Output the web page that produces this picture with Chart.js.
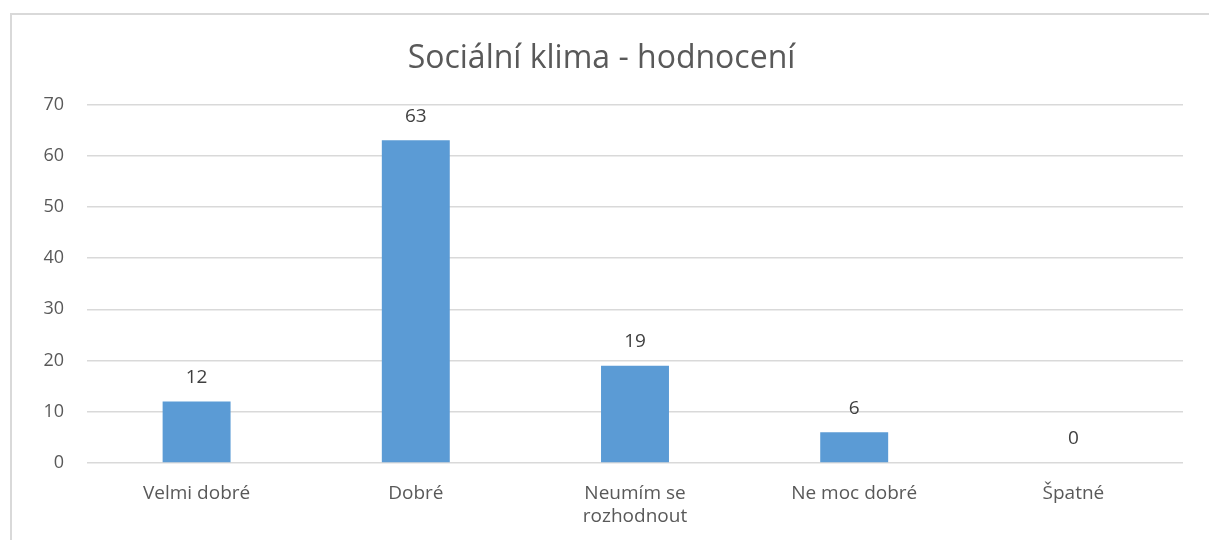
<!DOCTYPE html>
<html>
<head>
<meta charset="utf-8">
<script src="https://cdn.jsdelivr.net/npm/chart.js@4"></script>
<style>
  html, body { margin: 0; padding: 0; background: #fff; }
  #wrap { position: relative; width: 1209px; height: 540px; }
  #frame {
    position: absolute; left: 10px; top: 13px; right: 0; bottom: -5px;
    border-top: 2px solid #d9d9d9; border-left: 2px solid #d9d9d9;
  }
  canvas { position: absolute; left: 0; top: 0; }
</style>
</head>
<body>
<div id="wrap">
  <div id="frame"></div>
  <canvas id="chart" width="1209" height="540"></canvas>
</div>
<script>
const categories = ['Velmi dobré', 'Dobré', ['Neumím se', 'rozhodnout'], 'Ne moc dobré', 'Špatné'];
const values = [12, 63, 19, 6, 0];
const yTicks = [0, 10, 20, 30, 40, 50, 60, 70];

const fontFamily = '"Open Sans", "Noto Sans", sans-serif';
const textColor = '#595959';

// value labels above bars
const barLabels = {
  id: 'barLabels',
  afterDatasetsDraw(chart) {
    const { ctx } = chart;
    const meta = chart.getDatasetMeta(0);
    ctx.save();
    ctx.font = '19px ' + fontFamily;
    ctx.fillStyle = '#404040';
    ctx.textAlign = 'center';
    ctx.textBaseline = 'middle';
    meta.data.forEach((bar, i) => {
      ctx.fillText(values[i], bar.x, bar.y - 24);
    });
    ctx.restore();
  },
};

new Chart(document.getElementById('chart'), {
  type: 'bar',
  data: {
    labels: categories,
    datasets: [
      {
        data: values,
        backgroundColor: '#5b9bd5',
        barPercentage: 0.31,
        categoryPercentage: 1,
      },
    ],
  },
  options: {
    responsive: false,
    animation: false,
    layout: { padding: { left: 20, right: 26, top: 40, bottom: 13 } },
    plugins: {
      legend: { display: false },
      tooltip: { enabled: false },
      title: {
        display: true,
        text: 'Sociální klima - hodnocení',
        color: textColor,
        font: { family: fontFamily, size: 32, weight: 'normal', lineHeight: 1.2 },
        padding: { top: 0, bottom: 26 },
      },
    },
    scales: {
      x: {
        afterFit(scale) { scale.height = 64; },
        grid: { display: false, drawTicks: false },
        border: { display: false },
        ticks: {
          color: textColor,
          font: { family: fontFamily, size: 19, lineHeight: 1.2 },
          padding: 19,
          maxRotation: 0,
        },
      },
      y: {
        min: 0,
        max: 70,
        afterFit(scale) { scale.width = 67; },
        afterBuildTicks(scale) { scale.ticks = yTicks.map(v => ({ value: v })); },
        grid: { color: '#d9d9d9', lineWidth: 1.5, drawTicks: false },
        border: { display: false },
        ticks: {
          color: textColor,
          font: { family: fontFamily, size: 18 },
          padding: 23,
        },
      },
    },
  },
  plugins: [barLabels],
});
</script>
</body>
</html>
